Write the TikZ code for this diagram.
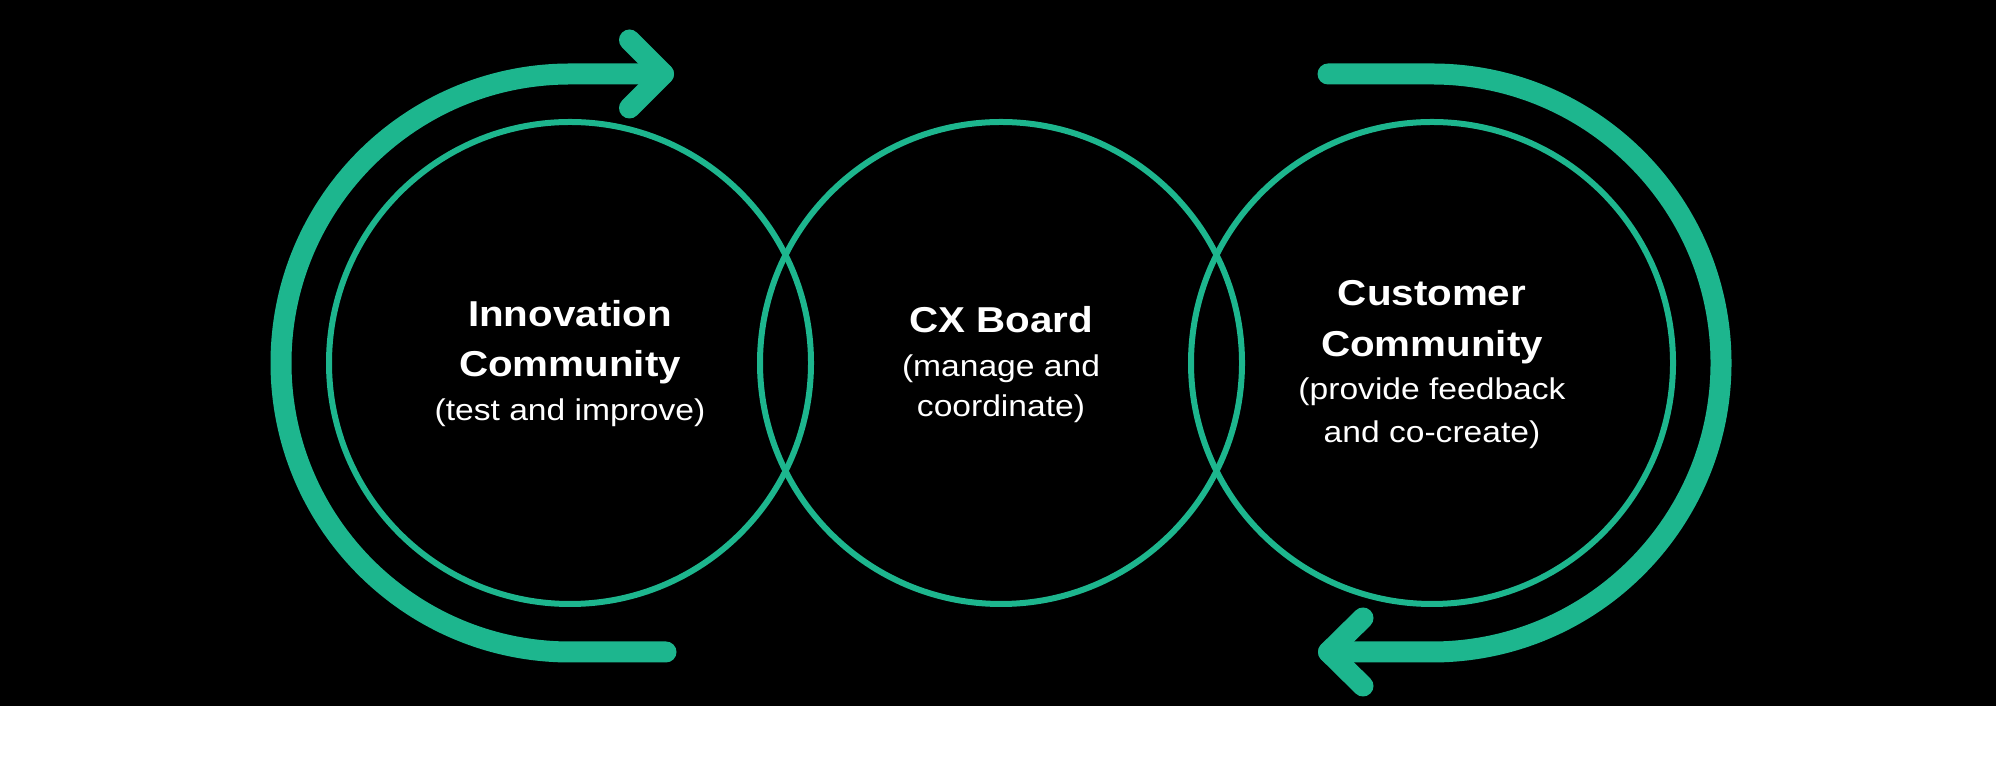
\documentclass[tikz,border=0pt]{standalone}
\usepackage{fontspec}
\setmainfont{Liberation Sans}[FakeStretch=1.12]
\definecolor{mint}{HTML}{1DB68E}
\begin{document}
\begin{tikzpicture}[x=1pt,y=1pt,
  ring/.style={circle, draw=mint, line width=6pt, minimum size=482pt, inner sep=0pt},
  loop/.style={draw=mint, line width=21pt, line cap=round, line join=round},
  ttl/.style={text=white, inner sep=0pt, anchor=base, font=\fontsize{36}{40}\selectfont\bfseries},
  sub/.style={text=white, inner sep=0pt, anchor=base, font=\fontsize{30}{34}\selectfont}]
\useasboundingbox (0,0) rectangle (1996,783);
\fill[white] (0,0) rectangle (1996,783);
\fill[black] (0,77) rectangle (1996,783);
% circles
\node[ring] (cl) at (570,420) {};
\node[ring] (cm) at (1001,420) {};
\node[ring] (cr) at (1432,420) {};
% left loop arrow
\draw[loop] (666,131) -- (570,131) arc[start angle=270, end angle=90, radius=289] -- (663.5,709);
\draw[loop] (629.5,743) -- (663.5,709) -- (629.5,675);
% right loop arrow
\draw[loop] (1328,709) -- (1432,709) arc[start angle=90, end angle=-90, radius=289] -- (1328.5,131);
\draw[loop] (1363,165) -- (1328.5,131) -- (1363,97);
% texts
\node[ttl] (l1) at (570,456) {Innovation};
\node[ttl] (l2) at (570,406) {Community};
\node[sub] (l3) at (570,362) {(test and improve)};
\node[ttl] (m1) at (1001,450) {CX Board};
\node[sub] (m2) at (1001,406) {(manage and};
\node[sub] (m3) at (1001,366) {coordinate)};
\node[ttl] (r1) at (1432,477) {Customer};
\node[ttl] (r2) at (1432,426) {Community};
\node[sub] (r3) at (1432,383) {(provide feedback};
\node[sub] (r4) at (1432,340) {and co-create)};
\end{tikzpicture}
\end{document}
